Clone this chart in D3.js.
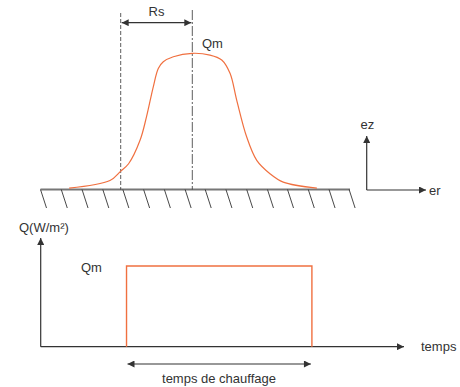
<!DOCTYPE html>
<html>
<head>
<meta charset="utf-8">
<script src="https://cdn.jsdelivr.net/npm/d3@7"></script>
<style>
  body { margin: 0; background: #fff; }
  text { font-family: "Liberation Sans", Arial, sans-serif; font-size: 13px; fill: #333; }
</style>
</head>
<body>
<script>
// heat flux profile Q(r), r in units of Rs, q in units of Qm
var profileR = [-1.72, -1.15, -1.0, -0.89, -0.73, -0.64, -0.545, -0.475, -0.405, -0.265, 0,
                0.247, 0.411, 0.527, 0.62, 0.76, 0.9, 1.085, 1.27, 1.74];
var profileQ = [0.01, 0.066, 0.135, 0.189, 0.361, 0.533, 0.754, 0.889, 0.938, 0.975, 1.0,
                0.987, 0.951, 0.853, 0.656, 0.385, 0.214, 0.116, 0.054, 0.01];

// heating pulse in time
var pulseT = [0.25, 0.25, 0.79, 0.79];
var pulseQ = [0, 1, 1, 0];

// hatch positions along the ground (in units of Rs)
var hatchR = [-2.12, -1.83, -1.54, -1.25, -0.97, -0.68, -0.39, -0.10,
              0.18, 0.47, 0.76, 1.05, 1.33, 1.62, 1.91, 2.19];

var labels = {rs: "Rs", qm: "Qm", ez: "ez", er: "er", q: "Q(W/m²)", t: "temps", heat: "temps de chauffage"};

(function(){
  var width = 460, height = 387;
  var orange = "#f07040", ink = "#333";

  var svg = d3.select("body").append("svg")
    .attr("width", width)
    .attr("height", height);

  var defs = svg.append("defs");
  defs.append("marker")
    .attr("id", "head")
    .attr("viewBox", "0 0 10 10")
    .attr("refX", 10).attr("refY", 5)
    .attr("markerWidth", 10).attr("markerHeight", 7)
    .attr("markerUnits", "userSpaceOnUse")
    .attr("orient", "auto-start-reverse")
    .append("path")
    .attr("d", "M0,0 L10,5 L0,10 Z")
    .attr("fill", ink);

  // ---------- top: spatial profile ----------
  var x = d3.scaleLinear().domain([0, 1]).range([192.3, 263.9]);
  var y = d3.scaleLinear().domain([0, 1]).range([189.5, 53.3]);

  // ground + hatches
  svg.append("line")
    .attr("x1", 40.5).attr("x2", 350)
    .attr("y1", y(0)).attr("y2", y(0))
    .attr("stroke", "#777").attr("stroke-width", 1.8);
  svg.selectAll(".hatch")
    .data(hatchR)
    .enter().append("line")
    .attr("class", "hatch")
    .attr("x1", function(d){ return x(d); })
    .attr("x2", function(d){ return x(d) + 6; })
    .attr("y1", y(0)).attr("y2", y(0) + 18.5)
    .attr("stroke", ink).attr("stroke-width", 0.9);

  // dashed guides
  svg.append("line")
    .attr("x1", x(-1)).attr("x2", x(-1))
    .attr("y1", 13).attr("y2", y(0))
    .attr("stroke", ink).attr("stroke-width", 0.8)
    .attr("stroke-dasharray", "4,2");
  svg.append("line")
    .attr("x1", x(0)).attr("x2", x(0))
    .attr("y1", 10).attr("y2", y(0))
    .attr("stroke", ink).attr("stroke-width", 0.8)
    .attr("stroke-dasharray", "10,2,2,2");

  // Rs double arrow
  svg.append("line")
    .attr("x1", x(-1) + 1).attr("x2", x(0) - 1)
    .attr("y1", 22.7).attr("y2", 22.7)
    .attr("stroke", ink).attr("stroke-width", 1.2)
    .attr("marker-start", "url(#head)")
    .attr("marker-end", "url(#head)");
  svg.append("text")
    .attr("x", x(-0.5)).attr("y", 16)
    .attr("text-anchor", "middle")
    .text(labels.rs);

  // profile curve
  var line = d3.line()
    .x(function(d){ return x(d[0]); })
    .y(function(d){ return y(d[1]); })
    .curve(d3.curveCatmullRom);
  svg.append("path")
    .datum(d3.zip(profileR, profileQ))
    .attr("d", line)
    .attr("fill", "none")
    .attr("stroke", orange)
    .attr("stroke-width", 1.2);
  svg.append("text")
    .attr("x", 202).attr("y", 48)
    .text(labels.qm);

  // frame ez / er
  svg.append("line")
    .attr("x1", 366.7).attr("x2", 366.7)
    .attr("y1", 190).attr("y2", 136)
    .attr("stroke", ink).attr("stroke-width", 1.2)
    .attr("marker-end", "url(#head)");
  svg.append("line")
    .attr("x1", 366.7).attr("x2", 426)
    .attr("y1", 190).attr("y2", 190)
    .attr("stroke", ink).attr("stroke-width", 1.2)
    .attr("marker-end", "url(#head)");
  svg.append("text").attr("x", 360.5).attr("y", 129).text(labels.ez);
  svg.append("text").attr("x", 429).attr("y", 194.5).text(labels.er);

  // ---------- bottom: time pulse ----------
  var tx = d3.scaleLinear().domain([0, 1]).range([40.7, 384]);
  var ty = d3.scaleLinear().domain([0, 1]).range([346.7, 266]);

  svg.append("line")
    .attr("x1", tx(0)).attr("x2", tx(0))
    .attr("y1", ty(0)).attr("y2", 238)
    .attr("stroke", ink).attr("stroke-width", 1.2)
    .attr("marker-end", "url(#head)");
  svg.append("line")
    .attr("x1", tx(0)).attr("x2", 404)
    .attr("y1", ty(0)).attr("y2", ty(0))
    .attr("stroke", ink).attr("stroke-width", 1.2)
    .attr("marker-end", "url(#head)");

  svg.append("path")
    .datum(d3.zip(pulseT, pulseQ))
    .attr("d", d3.line()
      .x(function(d){ return tx(d[0]); })
      .y(function(d){ return ty(d[1]); }))
    .attr("fill", "none")
    .attr("stroke", orange)
    .attr("stroke-width", 1.4);

  // heating duration arrow
  svg.append("line")
    .attr("x1", tx(pulseT[0]) + 1).attr("x2", tx(pulseT[2]) - 1)
    .attr("y1", 364).attr("y2", 364)
    .attr("stroke", ink).attr("stroke-width", 1.2)
    .attr("marker-start", "url(#head)")
    .attr("marker-end", "url(#head)");

  svg.append("text").attr("x", 19).attr("y", 232).text(labels.q);
  svg.append("text").attr("x", 81).attr("y", 272).text(labels.qm);
  svg.append("text").attr("x", 421).attr("y", 351).text(labels.t);
  svg.append("text")
    .attr("x", 219).attr("y", 383)
    .attr("text-anchor", "middle")
    .text(labels.heat);
})();
</script>
</body>
</html>
